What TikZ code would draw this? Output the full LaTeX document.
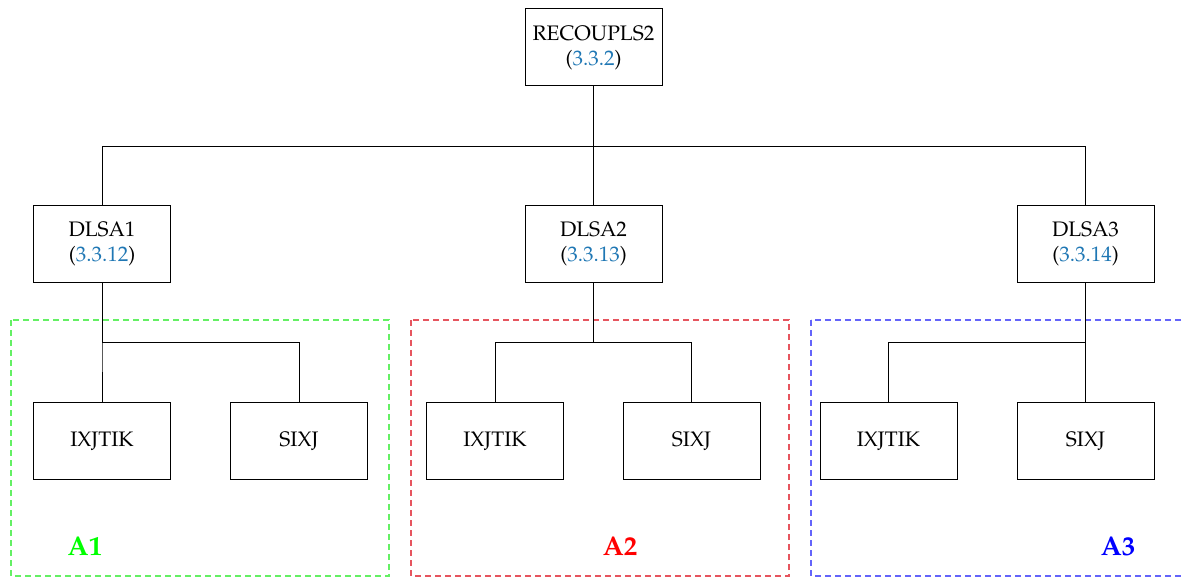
\documentclass[tikz,border=0pt]{standalone}
\usepackage[T1]{fontenc}
\usepackage{mathpazo}
\definecolor{refblue}{RGB}{31,119,180}
\definecolor{dashgreen}{RGB}{100,240,100}
\definecolor{dashred}{RGB}{230,85,95}
\definecolor{dashblue}{RGB}{100,100,250}
\tikzset{
  box/.style={draw, line width=0.5pt, minimum width=68.5pt, minimum height=38.5pt, inner sep=0pt, align=center, font=\fontsize{10.5}{12.5}\selectfont},
  conn/.style={line width=0.5pt},
  region/.style={line width=0.55pt, dash pattern=on 3pt off 2pt},
  reglabel/.style={font=\fontsize{13.5}{15}\selectfont\bfseries}
}
\newcommand{\eqref}[1]{(\textcolor{refblue}{#1})}
\begin{document}
\begin{tikzpicture}[x=0.5pt,y=-0.5pt]
\useasboundingbox (0,0) rectangle (1184,577);
\begin{scope}
\clip (0,0) rectangle (1184,577);
\draw[region, draw=dashgreen] (11,320) rectangle (389,576);
\draw[region, draw=dashred] (411,320) rectangle (789,576);
\draw[region, draw=dashblue] (811,320) rectangle (1200,576);
\end{scope}

\node[box] (R) at (593.5,47.5) {RECOUPLS2\\\eqref{3.3.2}};
\node[box] (D1) at (102,244) {DLSA1\\\eqref{3.3.12}};
\node[box] (D2) at (593.5,244) {DLSA2\\\eqref{3.3.13}};
\node[box] (D3) at (1085.5,244) {DLSA3\\\eqref{3.3.14}};

\node[box] (I1) at (102,441) {IXJTIK};
\node[box] (S1) at (299,441) {SIXJ};
\node[box] (I2) at (495,441) {IXJTIK};
\node[box] (S2) at (691.5,441) {SIXJ};
\node[box] (I3) at (888.5,441) {IXJTIK};
\node[box] (S3) at (1085.5,441) {SIXJ};

\foreach \c in {D1,D2,D3}{
  \draw[conn] (R.south) -- ++(0,60) -| (\c.north);
}
\draw[conn] (D1.south) -- ++(0,60) -| (I1.north);
\draw[conn] (D1.south) -- ++(0,60) -| (S1.north);
\draw[conn] (D2.south) -- ++(0,60) -| (I2.north);
\draw[conn] (D2.south) -- ++(0,60) -| (S2.north);
\draw[conn] (D3.south) -- ++(0,60) -| (I3.north);
\draw[conn] (D3.south) -- ++(0,60) -| (S3.north);

\node[reglabel, text=green] (L1) at (85,546) {A1};
\node[reglabel, text=red] (L2) at (620,546) {A2};
\node[reglabel, text=blue] (L3) at (1118,546) {A3};
\end{tikzpicture}
\end{document}
